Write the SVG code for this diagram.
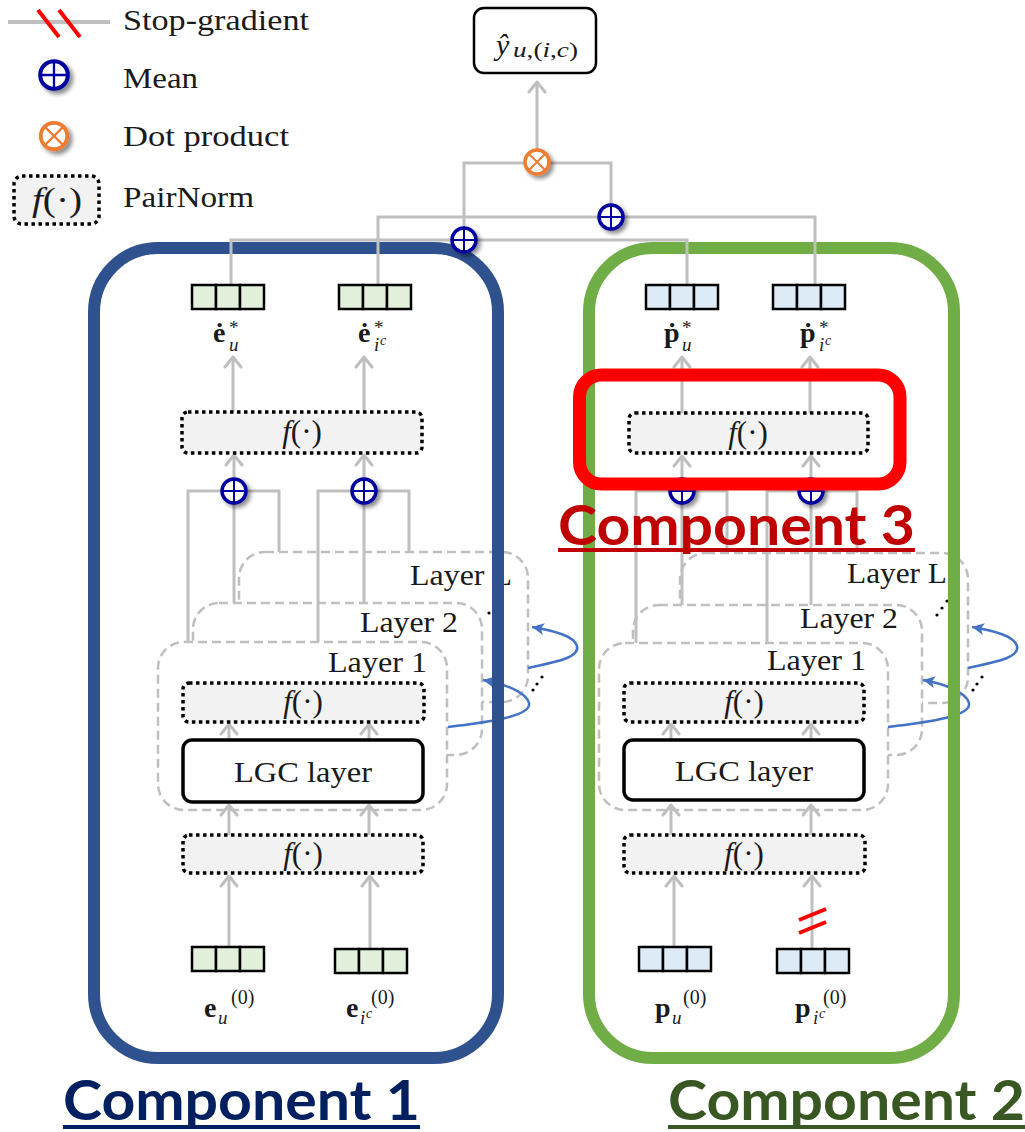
<svg xmlns="http://www.w3.org/2000/svg" width="1025" height="1132" viewBox="0 0 1025 1132">
<defs>
<style>
.t{font-family:"Liberation Serif","DejaVu Serif",serif;fill:#1a1a1a}
.it{font-style:italic}
.bf{font-weight:bold}
.ln{fill:none;stroke:#BFBFBF;stroke-width:3}
.ar{marker-end:url(#chev)}
.lay{fill:#fff;stroke:#BFBFBF;stroke-width:2.5;stroke-dasharray:9 5}
.pn{fill:#F2F2F2;stroke:#000;stroke-width:3.5;stroke-dasharray:3.5 3.5}
.box{fill:#fff;stroke:#000;stroke-width:3.5}
.mean{fill:#fff;stroke:#0000A0;stroke-width:3.5}
.mx{fill:none;stroke:#0000A0;stroke-width:2}
.dotp{fill:#fff;stroke:#ED7D31;stroke-width:3.5}
.dx{fill:none;stroke:#ED7D31;stroke-width:2}
.loop{fill:none;stroke:#4472C4;stroke-width:2.5;marker-end:url(#tri)}
.sg{stroke:#FF0000;stroke-width:4}
.comp{font-family:Lato,"Open Sans","Liberation Sans",sans-serif;font-weight:bold}
.el{fill:#000}
.fn{font-size:31px}
.vec{font-weight:bold;font-size:28px}
.sup{font-size:19px}
.sub{font-style:italic;font-size:19px}
.ssub{font-style:italic;font-size:14px}
.zero{font-size:20px}
</style>
<marker id="chev" viewBox="-13 -10 15 20" refX="0" refY="0" markerWidth="15" markerHeight="20" markerUnits="userSpaceOnUse" orient="auto">
<path d="M-10,-8 L0,0 L-10,8" fill="none" stroke="#BFBFBF" stroke-width="3" stroke-linecap="round" stroke-linejoin="round"/>
</marker>
<marker id="tri" viewBox="-13 -7 15 14" refX="0" refY="0" markerWidth="15" markerHeight="14" markerUnits="userSpaceOnUse" orient="auto">
<path d="M-12,-6 L0,0 L-12,6 L-9,0 Z" fill="#4472C4"/>
</marker>
<filter id="sh" x="-50%" y="-50%" width="200%" height="200%">
<feDropShadow dx="3" dy="3" stdDeviation="2" flood-color="#000" flood-opacity="0.45"/>
</filter>
<g id="meanSym"><circle class="mean" r="12"/><path class="mx" d="M-12,0H12M0,-12V12"/></g>
<g id="dotSym"><circle class="dotp" r="12"/><path class="dx" d="M-8.5,-8.5L8.5,8.5M-8.5,8.5L8.5,-8.5"/></g>
<g id="cells3" stroke="#000" stroke-width="2.5"><rect width="24" height="24"/><rect x="24" width="24" height="24"/><rect x="48" width="24" height="24"/></g>
</defs>

<!-- legend -->
<g id="legend">
<line x1="8" y1="22" x2="110" y2="22" stroke="#BFBFBF" stroke-width="4"/>
<path class="sg" d="M38,10L59,37M59,10L80,37"/>
<text class="t" x="123" y="30" font-size="30" textLength="186" lengthAdjust="spacingAndGlyphs">Stop-gradient</text>
<use href="#meanSym" transform="translate(54,75) scale(1.15)" filter="url(#sh)"/>
<text class="t" x="123" y="88" font-size="30" textLength="75" lengthAdjust="spacingAndGlyphs">Mean</text>
<use href="#dotSym" transform="translate(54,136) scale(1.1)" filter="url(#sh)"/>
<text class="t" x="123" y="146" font-size="30" textLength="166" lengthAdjust="spacingAndGlyphs">Dot product</text>
<rect class="pn" x="14" y="176" width="85" height="48" rx="8"/>
<text class="t" x="32" y="211" font-size="33" textLength="50" lengthAdjust="spacingAndGlyphs"><tspan class="it">f</tspan>(·)</text>
<text class="t" x="123" y="207" font-size="30" textLength="131" lengthAdjust="spacingAndGlyphs">PairNorm</text>
</g>

<!-- layer stacks, drawn beneath the component outlines -->
<g id="layers-left">
<rect class="lay" x="239" y="552" width="289" height="150" rx="26"/>
<text class="t" x="512" y="585" font-size="30" text-anchor="end" textLength="102" lengthAdjust="spacingAndGlyphs">Layer L</text>
<rect class="lay" x="193" y="603" width="289" height="152" rx="26"/>
<text class="t" x="458" y="632" font-size="30" text-anchor="end" textLength="98" lengthAdjust="spacingAndGlyphs">Layer 2</text>
<rect class="lay" x="158" y="642" width="289" height="168" rx="26"/>
<text class="t" x="427" y="672" font-size="30" text-anchor="end" textLength="99" lengthAdjust="spacingAndGlyphs">Layer 1</text>
<circle class="el" cx="489" cy="613" r="1.6"/><circle class="el" cx="494" cy="606" r="1.6"/><circle class="el" cx="499" cy="599" r="1.6"/>
<circle class="el" cx="533" cy="690" r="1.6"/><circle class="el" cx="537" cy="684" r="1.6"/><circle class="el" cx="542" cy="677" r="1.6"/>
</g>
<g id="layers-right">
<rect class="lay" x="680" y="553" width="288" height="150" rx="26"/>
<text class="t" x="947" y="583" font-size="30" text-anchor="end" textLength="100" lengthAdjust="spacingAndGlyphs">Layer L</text>
<rect class="lay" x="633" y="605" width="289" height="150" rx="26"/>
<text class="t" x="898" y="628" font-size="30" text-anchor="end" textLength="98" lengthAdjust="spacingAndGlyphs">Layer 2</text>
<rect class="lay" x="599" y="643" width="289" height="167" rx="26"/>
<text class="t" x="866" y="670" font-size="30" text-anchor="end" textLength="99" lengthAdjust="spacingAndGlyphs">Layer 1</text>
<circle class="el" cx="937" cy="615" r="1.6"/><circle class="el" cx="942" cy="608" r="1.6"/><circle class="el" cx="947" cy="601" r="1.6"/>
<circle class="el" cx="973" cy="690" r="1.6"/><circle class="el" cx="977" cy="684" r="1.6"/><circle class="el" cx="982" cy="677" r="1.6"/>
</g>

<!-- recurrence loops between layers -->
<g id="layer-loops">
<path class="loop" d="M448,727 C490,722 532,716 529,703 C526,692 505,684 483,680"/>
<path class="loop" d="M528,668 C555,662 580,658 577,646 C574,636 555,631 532,627"/>
<path class="loop" d="M888,727 C930,722 972,716 969,703 C966,692 945,684 923,680"/>
<path class="loop" d="M968,668 C995,662 1020,658 1017,646 C1014,636 995,631 972,627"/>
</g>

<!-- component outlines -->
<g id="component-1"><rect x="94" y="248" width="404" height="810" rx="64" fill="none" stroke="#2F528F" stroke-width="12"/></g>
<g id="component-2"><rect x="589" y="248" width="365" height="810" rx="64" fill="none" stroke="#70AD47" stroke-width="12"/></g>

<!-- gray connectors -->
<g id="connectors">
<path class="ln" d="M231,285V240H687V284"/>
<path class="ln" d="M378,285V217H815V284"/>
<path class="ln" d="M464,240V163H611V217"/>
<path class="ln ar" d="M537,162V82"/>
<path class="ln ar" d="M233,412V357"/>
<path class="ln ar" d="M364,412V357"/>
<path class="ln ar" d="M234,491V455"/>
<path class="ln ar" d="M364,491V455"/>
<path class="ln" d="M188,642V491H279V552"/>
<path class="ln" d="M234,491V603"/>
<path class="ln" d="M318,642V491H409V552"/>
<path class="ln" d="M364,491V603"/>
<path class="ln ar" d="M229,740V724"/>
<path class="ln ar" d="M369,740V724"/>
<path class="ln ar" d="M229,835V805"/>
<path class="ln ar" d="M369,835V805"/>
<path class="ln ar" d="M229,947V876"/>
<path class="ln ar" d="M370,949V876"/>
<path class="ln ar" d="M682,413V357"/>
<path class="ln ar" d="M810,413V357"/>
<path class="ln ar" d="M682,491V456"/>
<path class="ln ar" d="M811,491V456"/>
<path class="ln" d="M636,643V491H727V553"/>
<path class="ln" d="M682,491V605"/>
<path class="ln" d="M767,643V491H857V553"/>
<path class="ln" d="M811,491V605"/>
<path class="ln ar" d="M671,740V724"/>
<path class="ln ar" d="M811,740V724"/>
<path class="ln ar" d="M671,835V805"/>
<path class="ln ar" d="M811,835V805"/>
<path class="ln ar" d="M674,947V876"/>
<path class="ln ar" d="M812,949V876"/>
<path class="sg" d="M799,920L826,909M799,933L826,922"/>
</g>

<!-- prediction -->
<g id="output">
<rect x="474" y="8" width="122" height="65" rx="10" fill="#fff" stroke="#000" stroke-width="2.5"/>
<text class="t it" x="496" y="55" font-size="30">ŷ<tspan x="513" y="57" font-size="21" textLength="65" lengthAdjust="spacingAndGlyphs">u<tspan font-style="normal">,(</tspan>i<tspan font-style="normal">,</tspan>c<tspan font-style="normal">)</tspan></tspan></text>
</g>
<g id="dot-product"><use href="#dotSym" x="537" y="162" filter="url(#sh)"/></g>
<g id="mean-u"><use href="#meanSym" x="464" y="240" filter="url(#sh)"/></g>
<g id="mean-i"><use href="#meanSym" x="611" y="217" filter="url(#sh)"/></g>

<!-- component 1 nodes -->
<g id="e-u-star"><use href="#cells3" x="192" y="285" fill="#E2EFDA"/>
<text class="t"><tspan class="vec" x="213" y="342">ė</tspan><tspan class="sup" x="229" y="334">*</tspan><tspan class="sub" x="229" y="351">u</tspan></text></g>
<g id="e-i-star"><use href="#cells3" x="339" y="285" fill="#E2EFDA"/>
<text class="t"><tspan class="vec" x="358" y="342">ė</tspan><tspan class="sup" x="374" y="334">*</tspan><tspan class="sub" x="374" y="351">i</tspan><tspan class="ssub" x="380" y="345">c</tspan></text></g>
<g id="pairnorm-out-1"><rect class="pn" x="182" y="412" width="240" height="41" rx="6"/><text class="t fn" x="302" y="442" text-anchor="middle"><tspan class="it">f</tspan>(·)</text></g>
<g id="mean-layers-u-1"><use href="#meanSym" x="234" y="491" filter="url(#sh)"/></g>
<g id="mean-layers-i-1"><use href="#meanSym" x="364" y="491" filter="url(#sh)"/></g>
<g id="pairnorm-layer-1"><rect class="pn" x="183" y="683" width="241" height="39" rx="6"/><text class="t fn" x="303" y="712" text-anchor="middle"><tspan class="it">f</tspan>(·)</text></g>
<g id="lgc-1"><rect class="box" x="183" y="740" width="240" height="62" rx="9"/><text class="t" x="303" y="782" font-size="30" text-anchor="middle" textLength="138" lengthAdjust="spacingAndGlyphs">LGC layer</text></g>
<g id="pairnorm-in-1"><rect class="pn" x="183" y="835" width="240" height="38" rx="6"/><text class="t fn" x="303" y="864" text-anchor="middle"><tspan class="it">f</tspan>(·)</text></g>
<g id="e-u-0"><use href="#cells3" x="192" y="947" fill="#E2EFDA"/>
<text class="t"><tspan class="vec" x="204" y="1017">e</tspan><tspan class="sub" x="218" y="1024">u</tspan><tspan class="zero" x="231" y="1004">(0)</tspan></text></g>
<g id="e-i-0"><use href="#cells3" x="335" y="949" fill="#E2EFDA"/>
<text class="t"><tspan class="vec" x="346" y="1017">e</tspan><tspan class="sub" x="360" y="1024">i</tspan><tspan class="ssub" x="366" y="1018">c</tspan><tspan class="zero" x="371" y="1004">(0)</tspan></text></g>

<!-- component 2 nodes -->
<g id="p-u-star"><use href="#cells3" x="646" y="285" fill="#DDEBF7"/>
<text class="t"><tspan class="vec" x="664" y="342">ṗ</tspan><tspan class="sup" x="682" y="334">*</tspan><tspan class="sub" x="682" y="351">u</tspan></text></g>
<g id="p-i-star"><use href="#cells3" x="773" y="285" fill="#DDEBF7"/>
<text class="t"><tspan class="vec" x="800" y="342">ṗ</tspan><tspan class="sup" x="819" y="334">*</tspan><tspan class="sub" x="819" y="351">i</tspan><tspan class="ssub" x="825" y="345">c</tspan></text></g>
<g id="pairnorm-out-2"><rect class="pn" x="629" y="413" width="239" height="40" rx="6"/><text class="t fn" x="748" y="443" text-anchor="middle"><tspan class="it">f</tspan>(·)</text></g>
<g id="mean-layers-u-2"><use href="#meanSym" x="682" y="491" filter="url(#sh)"/></g>
<g id="mean-layers-i-2"><use href="#meanSym" x="811" y="491" filter="url(#sh)"/></g>
<g id="pairnorm-layer-2"><rect class="pn" x="624" y="683" width="240" height="39" rx="6"/><text class="t fn" x="744" y="712" text-anchor="middle"><tspan class="it">f</tspan>(·)</text></g>
<g id="lgc-2"><rect class="box" x="624" y="740" width="240" height="60" rx="9"/><text class="t" x="744" y="781" font-size="30" text-anchor="middle" textLength="138" lengthAdjust="spacingAndGlyphs">LGC layer</text></g>
<g id="pairnorm-in-2"><rect class="pn" x="624" y="835" width="241" height="38" rx="6"/><text class="t fn" x="744" y="864" text-anchor="middle"><tspan class="it">f</tspan>(·)</text></g>
<g id="p-u-0"><use href="#cells3" x="639" y="947" fill="#DDEBF7"/>
<text class="t"><tspan class="vec" x="655" y="1017">p</tspan><tspan class="sub" x="672" y="1024">u</tspan><tspan class="zero" x="683" y="1004">(0)</tspan></text></g>
<g id="p-i-0"><use href="#cells3" x="777" y="949" fill="#DDEBF7"/>
<text class="t"><tspan class="vec" x="795" y="1017">p</tspan><tspan class="sub" x="813" y="1024">i</tspan><tspan class="ssub" x="819" y="1018">c</tspan><tspan class="zero" x="823" y="1004">(0)</tspan></text></g>

<!-- component 3 highlight -->
<g id="component-3"><rect x="579.5" y="375" width="320.5" height="109" rx="22" fill="none" stroke="#FF0000" stroke-width="13"/></g>

<!-- component captions -->
<g id="captions">
<text class="comp" x="558" y="545" font-size="55" fill="#C00000" textLength="357" lengthAdjust="spacingAndGlyphs">Component 3</text>
<rect x="558" y="548" width="357" height="4" fill="#C00000"/>
<text class="comp" x="63" y="1120" font-size="55" fill="#002060" textLength="357" lengthAdjust="spacingAndGlyphs">Component 1</text>
<rect x="63" y="1125" width="357" height="4" fill="#002060"/>
<text class="comp" x="668" y="1120" font-size="55" fill="#385723" textLength="357" lengthAdjust="spacingAndGlyphs">Component 2</text>
<rect x="668" y="1125" width="357" height="4" fill="#385723"/>
</g>
</svg>
